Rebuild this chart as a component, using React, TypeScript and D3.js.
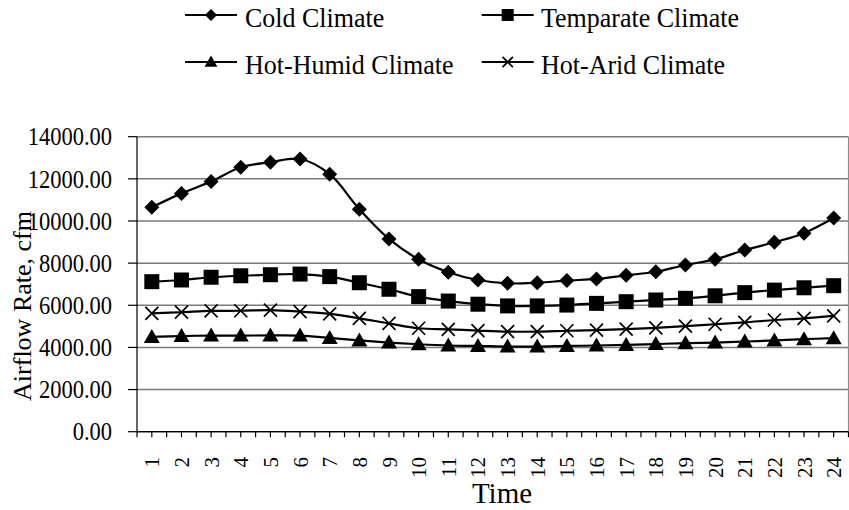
import React from "react";
import * as d3 from "d3";

const hours = Array.from({ length: 24 }, (_, i) => String(i + 1));
const yTicks = [0, 2000, 4000, 6000, 8000, 10000, 12000, 14000];

const cold = [10650, 11310, 11870, 12550, 12790, 12940, 12220, 10560, 9150, 8180, 7570, 7200, 7040, 7070, 7170, 7250, 7420, 7590, 7910, 8180, 8620, 8990, 9420, 10140];
const temperate = [7120, 7200, 7330, 7400, 7450, 7480, 7360, 7070, 6760, 6410, 6200, 6050, 5970, 5970, 6010, 6090, 6170, 6250, 6330, 6450, 6600, 6720, 6830, 6930];
const hotHumid = [4500, 4540, 4560, 4560, 4570, 4560, 4450, 4330, 4230, 4150, 4090, 4070, 4040, 4040, 4070, 4090, 4120, 4160, 4200, 4230, 4280, 4330, 4390, 4440];
const hotArid = [5620, 5670, 5730, 5740, 5770, 5700, 5590, 5380, 5140, 4910, 4860, 4800, 4750, 4750, 4790, 4820, 4870, 4930, 5010, 5100, 5190, 5300, 5380, 5500];

type Series = { name: string; values: number[]; marker: string };
const series: Series[] = [
  { name: "Cold Climate", values: cold, marker: "diamond" },
  { name: "Temparate Climate", values: temperate, marker: "square" },
  { name: "Hot-Humid Climate", values: hotHumid, marker: "triangle" },
  { name: "Hot-Arid Climate", values: hotArid, marker: "cross" },
];

const W = 849, H = 510;
const L = 137, R = 848.5, T = 136.7, B = 431.7;
const FONT = "'Liberation Serif', 'Times New Roman', serif";
const VS = 1.08;

function Marker({ type, x, y, s = 1 }: { type: string; x: number; y: number; s?: number }) {
  if (type === "diamond") {
    const r = 7.5 * s;
    return <path d={`M${x},${y - r}L${x + r},${y}L${x},${y + r}L${x - r},${y}Z`} fill="#000" />;
  }
  if (type === "square") {
    const r = 7.5 * s;
    return <rect x={x - r} y={y - r} width={2 * r} height={2 * r} fill="#000" />;
  }
  if (type === "triangle") {
    const r = 8 * s;
    return <path d={`M${x},${y - r}L${x + r},${y + r * 0.75}L${x - r},${y + r * 0.75}Z`} fill="#000" />;
  }
  const r = 6.5 * s;
  return <path d={`M${x - r},${y - r}L${x + r},${y + r}M${x - r},${y + r}L${x + r},${y - r}`} stroke="#000" strokeWidth={1.7} fill="none" />;
}

export default function App() {
  const x = d3.scaleBand<string>().domain(hours).range([L, R]);
  const y = d3.scaleLinear().domain([0, 14000]).range([B, T]);
  const cx = (h: string) => (x(h) as number) + x.bandwidth() / 2;
  const line = d3
    .line<number>()
    .x((_, i) => cx(hours[i]))
    .y((v) => y(v))
    .curve(d3.curveCatmullRom.alpha(0.5));

  const bw = x.bandwidth();
  const xTickPos: number[] = [];
  for (let i = 0; i <= 48; i++) xTickPos.push(L + (i * bw) / 2);

  const legendItems = [
    { s: series[0], lx: 185, ly: 15, tx: 245, ty: 27 },
    { s: series[1], lx: 481.7, ly: 15, tx: 541, ty: 27 },
    { s: series[2], lx: 185, ly: 62, tx: 245, ty: 74 },
    { s: series[3], lx: 481.7, ly: 62, tx: 541, ty: 74 },
  ];

  return (
    <div style={{ position: "absolute", left: 0, top: 0 }}>
      <svg width={W} height={H} style={{ display: "block", background: "#fff" }} fontFamily={FONT}>
        {/* gridlines */}
        {yTicks.map((t) => (
          <line key={t} x1={L} x2={R} y1={y(t)} y2={y(t)} stroke="#7a7a7a" strokeWidth={1.5} />
        ))}
        <line x1={R} x2={R} y1={T} y2={B} stroke="#8c8c8c" strokeWidth={1.2} />
        {/* axes */}
        <line x1={L} x2={L} y1={T} y2={B} stroke="#000" strokeWidth={1.2} />
        <line x1={L} x2={R} y1={B} y2={B} stroke="#000" strokeWidth={1.2} />
        {yTicks.map((t) => (
          <g key={"yt" + t}>
            <line x1={L - 9} x2={L} y1={y(t)} y2={y(t)} stroke="#000" strokeWidth={1.2} />
            <text
              transform={`translate(112,${y(t)}) scale(1,${VS})`}
              dy="0.36em"
              textAnchor="end"
              fontSize={22.5}
              fill="#000"
            >
              {t.toFixed(2)}
            </text>
          </g>
        ))}
        {xTickPos.map((p, i) => (
          <line key={"xt" + i} x1={p} x2={p} y1={B} y2={B + 5.5} stroke="#000" strokeWidth={1.2} />
        ))}
        {hours.map((h) => (
          <text
            key={"xl" + h}
            transform={`translate(${cx(h)},457) rotate(-90)`}
            dy="0.36em"
            textAnchor="end"
            fontSize={21}
            fill="#000"
          >
            {h}
          </text>
        ))}
        {/* axis titles */}
        <text transform="translate(31,306) rotate(-90)" textAnchor="middle" fontSize={26} fill="#000">
          Airflow Rate, cfm
        </text>
        <text x={502} y={503} textAnchor="middle" fontSize={29} fill="#000">
          Time
        </text>
        {/* series */}
        {series.map((s) => (
          <g key={s.name}>
            <path d={line(s.values) || ""} fill="none" stroke="#000" strokeWidth={2.2} />
            {s.values.map((v, i) => (
              <Marker key={i} type={s.marker} x={cx(hours[i])} y={y(v)} />
            ))}
          </g>
        ))}
        {/* legend */}
        {legendItems.map((it) => (
          <g key={"lg" + it.s.name}>
            <line x1={it.lx} x2={it.lx + 52} y1={it.ly} y2={it.ly} stroke="#000" strokeWidth={2.2} />
            <Marker type={it.s.marker} x={it.lx + 26} y={it.ly} s={0.8} />
            <text transform={`translate(${it.tx},${it.ty}) scale(1,${VS})`} fontSize={26} fill="#000">
              {it.s.name}
            </text>
          </g>
        ))}
      </svg>
    </div>
  );
}
